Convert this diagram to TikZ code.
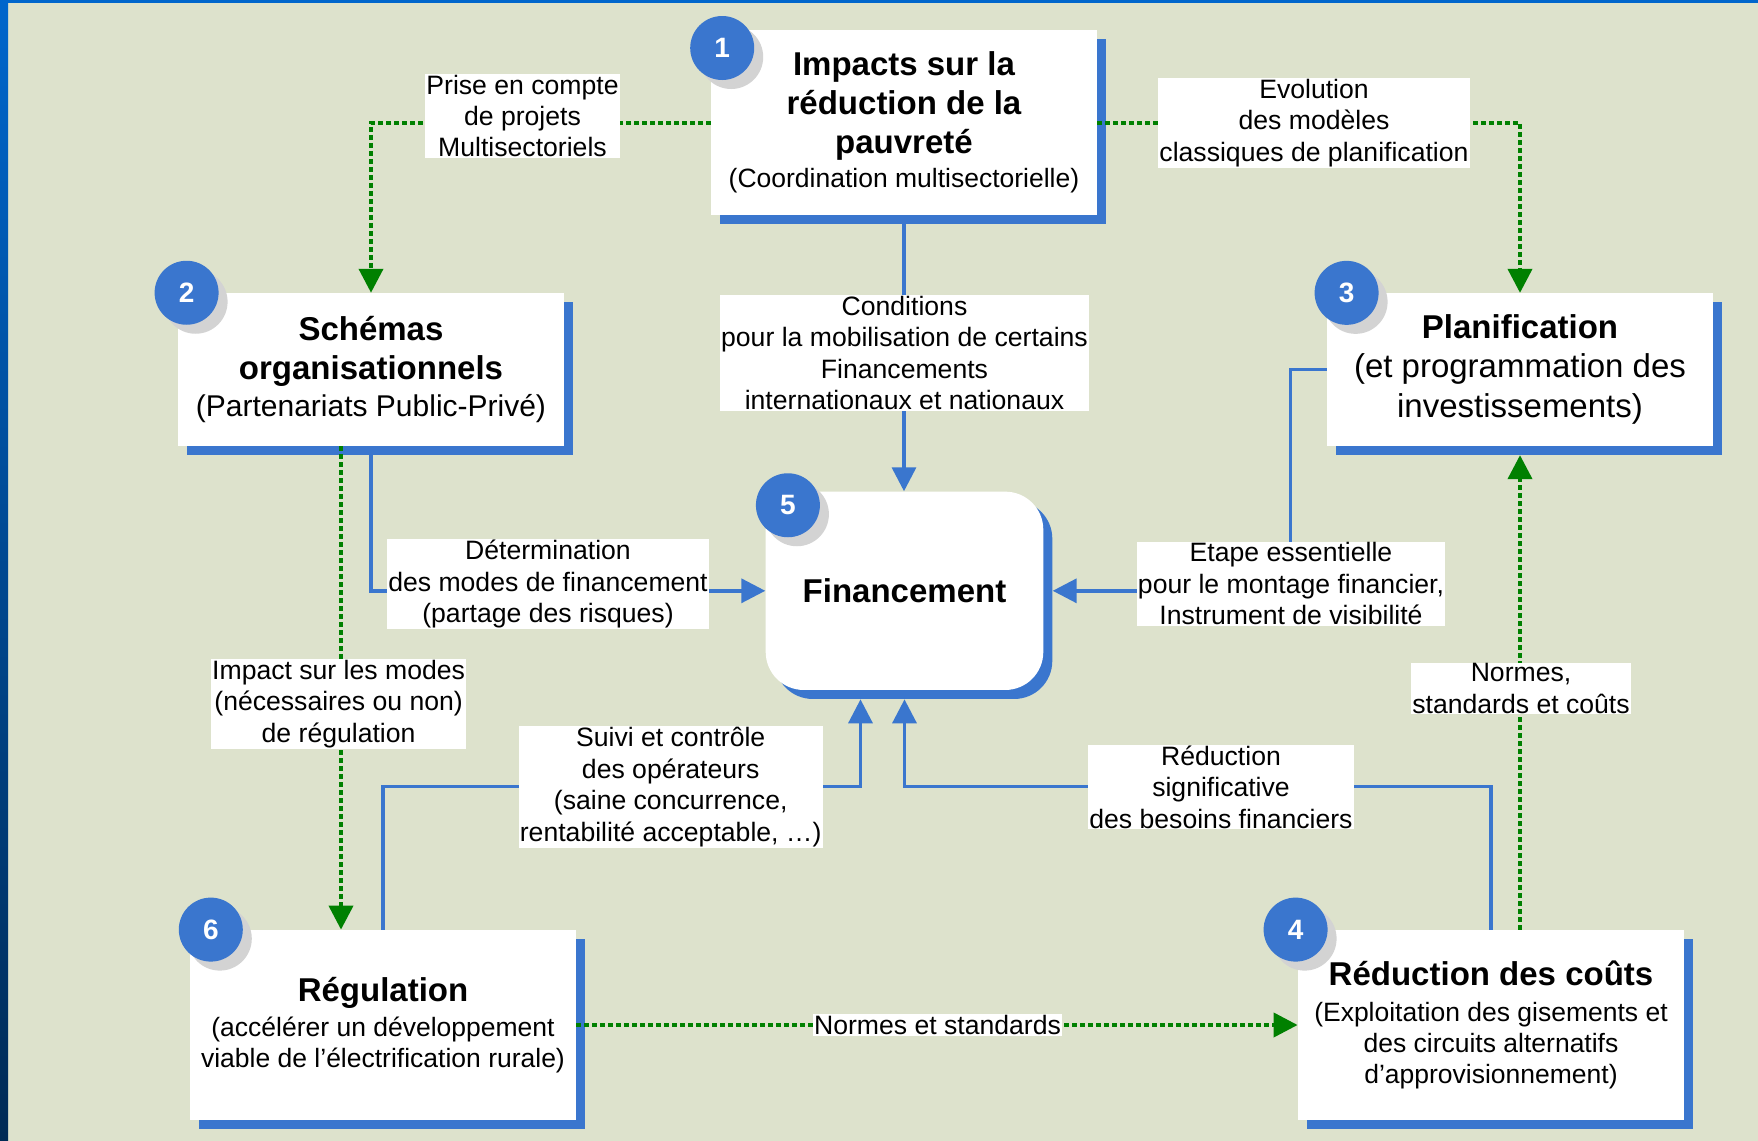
\documentclass[tikz,border=0pt]{standalone}
\usepackage{fontspec}
\setmainfont{Liberation Sans}
\usetikzlibrary{arrows.meta,shadows,positioning}
\definecolor{mblue}{HTML}{3A76CE}
\definecolor{mgreen}{HTML}{008000}
\definecolor{bgcol}{HTML}{DDE2CC}
\definecolor{shgray}{HTML}{D3D3D3}
\definecolor{edgeblue}{HTML}{0066CC}
\definecolor{edgedark}{HTML}{002A55}
% all box fonts share one baselineskip, gaps are added with \\[..]
\newcommand{\fs}[1]{\fontsize{#1}{15.7}\selectfont}
\newcommand{\boxfont}{\fs{16.5}\lineskiplimit -100pt\relax}
\tikzset{
  box/.style={fill=white, inner sep=0pt, text width=193pt, minimum width=193pt,
    align=flush center, font=\boxfont,
    drop shadow={shadow xshift=4.5pt, shadow yshift=-4.5pt, opacity=1, fill=mblue}},
  num/.style={circle, fill=mblue, text=white, minimum size=32pt, inner sep=0pt,
    font=\fs{14}\bfseries,
    drop shadow={shadow xshift=4.5pt, shadow yshift=-4.5pt, opacity=1, fill=shgray}},
  lbl/.style={fill=white, inner sep=0.5pt, align=center, font=\fs{13.3}},
  flow/.style={draw=mblue, line width=1.75pt},
  dep/.style={draw=mgreen, line width=2pt, dash pattern=on 2.5pt off 1.5pt}
}

\begin{document}
\begin{tikzpicture}[x=0.5pt, y=-0.5pt, >={Triangle[width=12pt,length=12pt]}]
  % background
  \fill[bgcol] (0,0) rectangle (1758,1141);
  \shade[top color=edgeblue, bottom color=edgedark] (0,0) rectangle (8,1141);
  \fill[edgeblue] (0,0) rectangle (1758,3);

  % boxes
  \node[box, minimum height=92.5pt] (b1) at (904,122.5)
    {\bfseries Impacts sur la\\[3.8pt]réduction de la\\[3.6pt]pauvreté\\[1.7pt]\mdseries\fs{13.25}(Coordination multisectorielle)};
  \node[box, minimum height=76.25pt] (b2) at (371,369.4)
    {\bfseries Schémas\\[3.9pt]organisationnels\\[2.8pt]\mdseries\fs{15}(Partenariats Public-Privé)};
  \node[box, minimum height=76.25pt] (b3) at (1520,369.5)
    {\bfseries Planification\\[4pt]\mdseries (et programmation des\\[4.4pt]investissements)};
  \node[box, minimum height=95pt] (b6) at (383,1025)
    {\bfseries Régulation\\[1.8pt]\mdseries\fs{13.25}(accélérer un développement\\viable de l’électrification rurale)};
  \node[box, minimum height=95pt] (b4) at (1491,1025)
    {\bfseries Réduction des coûts\\[2.2pt]\mdseries\fs{13.25}(Exploitation des gisements et\\des circuits alternatifs\\d’approvisionnement)};
  \node[box, text width=138.8pt, minimum width=138.8pt, minimum height=99.15pt,
    rounded corners=19pt, font=\fs{16.5}\bfseries] (b5) at (904.5,590.8) {Financement};

  % numbers
  \node[num] (n1) at ([xshift=5.8pt,yshift=-9.2pt]b1.north west) {1};
  \node[num] (n2) at ([xshift=4.5pt]b2.north west) {2};
  \node[num] (n3) at ([xshift=10pt]b3.north west) {3};
  \node[num] (n4) at ([xshift=-1pt]b4.north west) {4};
  \node[num] (n5) at ([xshift=11.3pt,yshift=-7pt]b5.north west) {5};
  \node[num] (n6) at ([xshift=10.6pt]b6.north west) {6};

  % dotted links
  \draw[dep, ->] (b1.west) -| (b2.north);
  \draw[dep, ->] (b1.east) -| (b3.north);
  \draw[dep, ->] ([xshift=-15pt]b2.south) -- ([xshift=-15pt]b2.south |- b6.north);
  \draw[dep, ->] (b6.east) -- (b4.west);
  \draw[dep, ->] (b4.north -| b3.south) -- ([yshift=-4.5pt]b3.south);

  % financing links
  \draw[flow, ->] (b1.south) -- (b1.south |- b5.north);
  \draw[flow, ->] (b2.south) |- (b5.west);
  \draw[flow, ->] (b3.west) -- ++(-36,0) |- ([xshift=4.5pt]b5.east);
  \draw[flow, ->] (b6.north) -- ++(0,-143) -| ([xshift=-22pt,yshift=-4.5pt]b5.south);
  \draw[flow, ->] (b4.north) -- ++(0,-143) -| ([yshift=-4.5pt]b5.south);

  % labels
  \node[lbl] (lprise) at (522.5,116) {Prise en compte\\de projets\\Multisectoriels};
  \node[lbl] (levol) at (1314,123) {Evolution\\des modèles\\classiques de planification};
  \node[lbl] (lcond) at (904.5,353) {Conditions\\pour la mobilisation de certains\\Financements\\internationaux et nationaux};
  \node[lbl] (ldet) at (548,584) {Détermination\\des modes de financement\\(partage des risques)};
  \node[lbl] (letape) at (1291,583.7) {Etape essentielle\\pour le montage financier,\\Instrument de visibilité};
  \node[lbl] (limpact) at (338.6,704) {Impact sur les modes\\(nécessaires ou non)\\de régulation};
  \node[lbl] (lnormes) at (1521,688.5) {Normes,\\standards et coûts};
  \node[lbl] (lsuivi) at (670.7,787) {Suivi et contrôle\\des opérateurs\\(saine concurrence,\\rentabilité acceptable, …)};
  \node[lbl] (lreduc) at (1221,787) {Réduction\\significative\\des besoins financiers};
  \node[lbl] (lnorstd) at (937.5,1025) {Normes et standards};
\end{tikzpicture}
\end{document}
